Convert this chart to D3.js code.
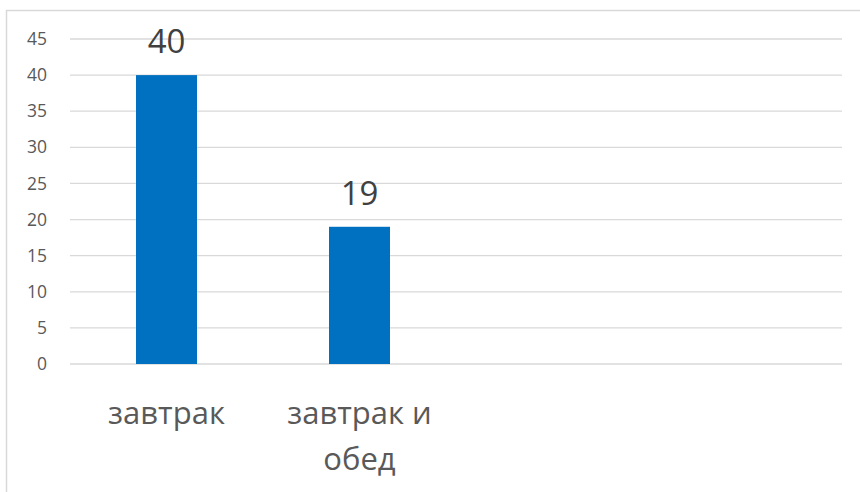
<!DOCTYPE html>
<html>
<head>
<meta charset="utf-8">
<script src="https://cdn.jsdelivr.net/npm/d3@7"></script>
<style>
  body { margin: 0; background: #fff; }
  svg { display: block; font-family: "Open Sans", "Noto Sans", sans-serif; }
</style>
</head>
<body>
<div id="chart"></div>
<script>
// Chart data
const categories = ['завтрак', 'завтрак и обед', '', ''];
const categoryLines = [['завтрак'], ['завтрак и', 'обед'], [], []];
const values = [40, 19, null, null];
const yTicks = [0, 5, 10, 15, 20, 25, 30, 35, 40, 45];

const width = 860;
const height = 492;
const margin = { top: 39, right: 18, bottom: 128, left: 70 };

const svg = d3.select('#chart')
  .append('svg')
  .attr('width', width)
  .attr('height', height);

// Outer chart frame (cropped at right/bottom)
svg.append('rect')
  .attr('x', 6.5)
  .attr('y', 10.5)
  .attr('width', width)
  .attr('height', height)
  .attr('fill', 'none')
  .attr('stroke', '#d9d9d9')
  .attr('stroke-width', 1.5);

const x = d3.scaleBand()
  .domain(d3.range(categories.length))
  .range([margin.left, width - margin.right])
  .paddingInner(0.684)
  .paddingOuter(0.342);

const y = d3.scaleLinear()
  .domain([0, 45])
  .range([height - margin.bottom, margin.top]);

// Gridlines
svg.append('g')
  .selectAll('line')
  .data(yTicks)
  .join('line')
  .attr('x1', margin.left)
  .attr('x2', width - margin.right)
  .attr('y1', d => y(d))
  .attr('y2', d => y(d))
  .attr('stroke', '#d9d9d9')
  .attr('stroke-width', 1.3);

// Y tick labels
svg.append('g')
  .selectAll('text')
  .data(yTicks)
  .join('text')
  .attr('x', 47)
  .attr('y', d => y(d))
  .attr('dy', '0.35em')
  .attr('text-anchor', 'end')
  .attr('font-size', 17.5)
  .attr('fill', '#595959')
  .text(d => d);

// Bars
const barData = values.map((v, i) => ({ i, v })).filter(d => d.v != null);

svg.append('g')
  .selectAll('rect')
  .data(barData)
  .join('rect')
  .attr('x', d => x(d.i))
  .attr('y', d => y(d.v))
  .attr('width', x.bandwidth())
  .attr('height', d => y(0) - y(d.v))
  .attr('fill', '#0070c0');

// Data labels
svg.append('g')
  .selectAll('text')
  .data(barData)
  .join('text')
  .attr('x', d => x(d.i) + x.bandwidth() / 2)
  .attr('y', d => y(d.v) - 22)
  .attr('text-anchor', 'middle')
  .attr('font-size', 33)
  .attr('fill', '#404040')
  .text(d => d.v);

// Category labels (wrapped)
const catG = svg.append('g')
  .selectAll('text')
  .data(categoryLines)
  .join('text')
  .attr('x', (d, i) => x(i) + x.bandwidth() / 2)
  .attr('y', 424)
  .attr('text-anchor', 'middle')
  .attr('font-size', 31)
  .attr('fill', '#595959');

catG.selectAll('tspan')
  .data(d => d)
  .join('tspan')
  .attr('x', function () { return d3.select(this.parentNode).attr('x'); })
  .attr('dy', (d, j) => j === 0 ? 0 : 46)
  .text(d => d);
</script>
</body>
</html>
